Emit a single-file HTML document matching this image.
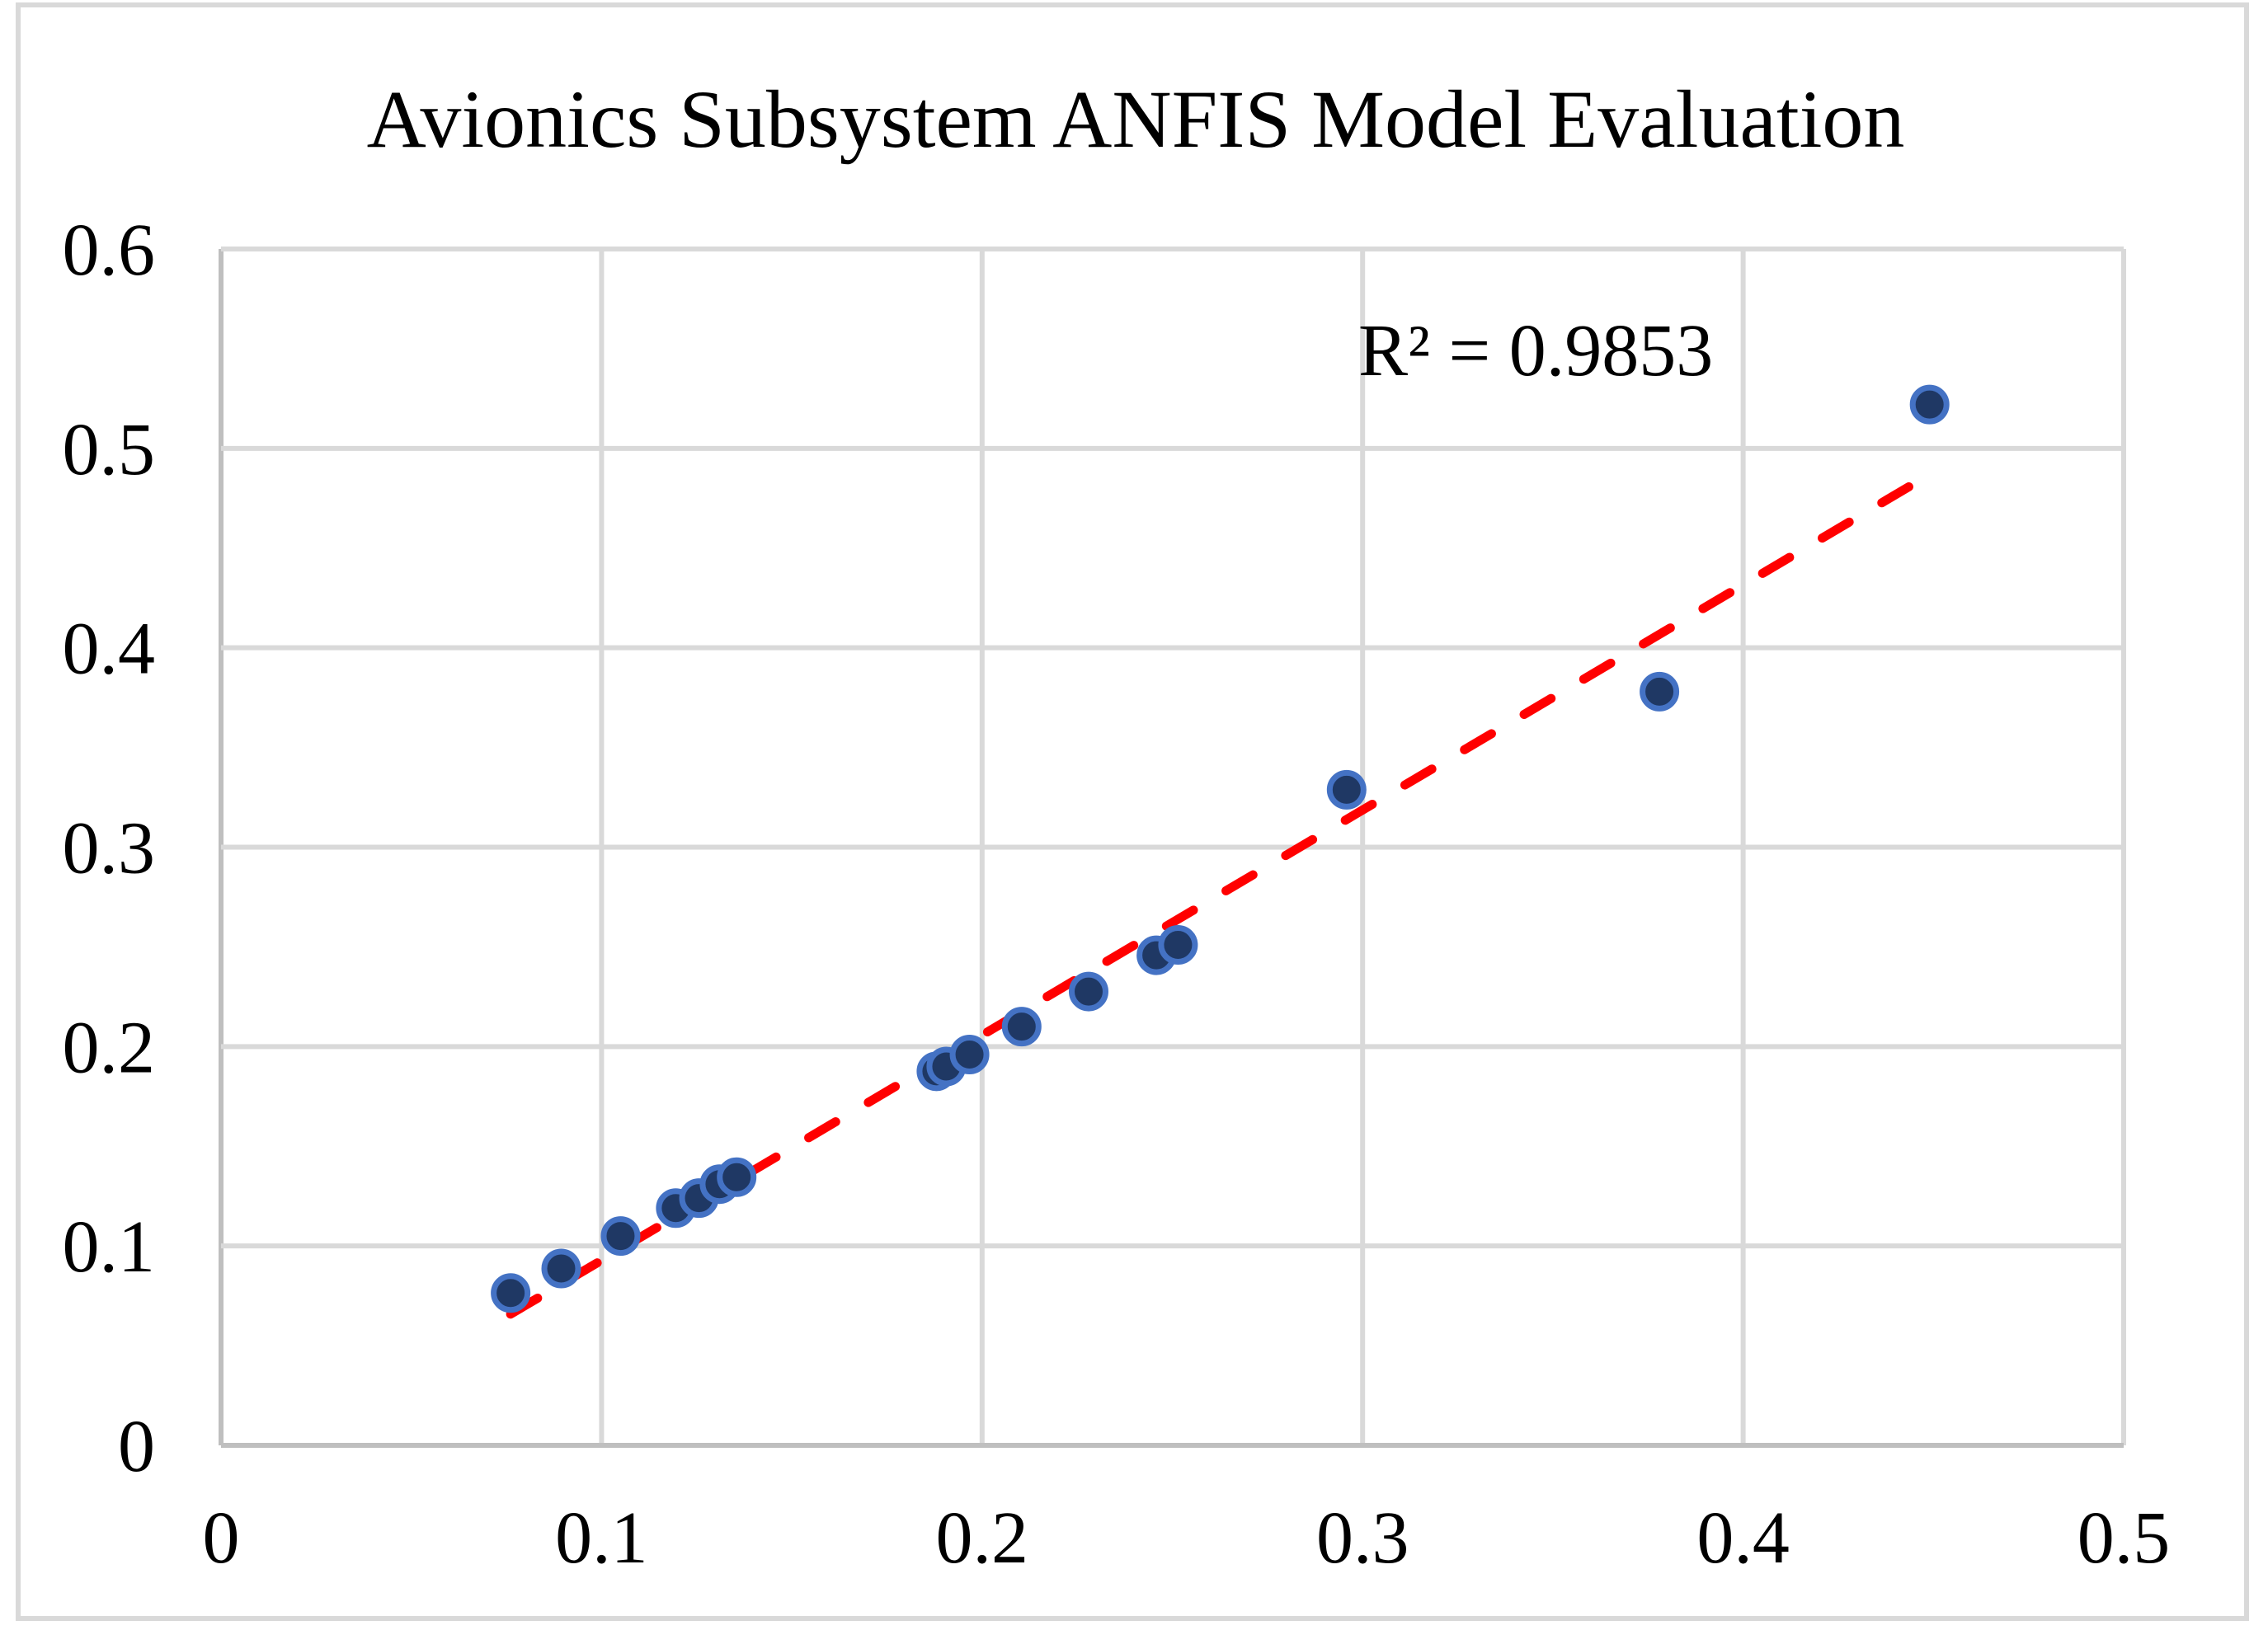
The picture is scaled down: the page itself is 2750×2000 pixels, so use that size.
<!DOCTYPE html>
<html><head><meta charset="utf-8"><style>
html,body{margin:0;padding:0;background:#fff}
svg text{font-family:"Liberation Serif",serif;fill:#000}
</style></head><body>
<svg id="chart" width="2750" height="1995" viewBox="0 0 2750 1995" xmlns="http://www.w3.org/2000/svg">
<rect x="22" y="6" width="2702" height="1957" fill="#fff" stroke="#d9d9d9" stroke-width="6"/>
<text x="1377" y="178" font-size="100" text-anchor="middle">Avionics Subsystem ANFIS Model Evaluation</text>
<g id="grid"></g>
<g id="trend"></g>
<g id="points"></g>
<text x="1647" y="455" font-size="90">R² = 0.9853</text>
</svg>
<script>
const xTicks = [0, 0.1, 0.2, 0.3, 0.4, 0.5];
const yTicks = [0, 0.1, 0.2, 0.3, 0.4, 0.5, 0.6];
const xTickLabels = ["0", "0.1", "0.2", "0.3", "0.4", "0.5"];
const yTickLabels = ["0", "0.1", "0.2", "0.3", "0.4", "0.5", "0.6"];
const xValues = [0.0761, 0.0894, 0.105, 0.1195, 0.1256, 0.131, 0.1355, 0.188, 0.1906, 0.1967, 0.2104, 0.228, 0.2458, 0.2515, 0.2958, 0.378, 0.449];
const yValues = [0.0764, 0.0887, 0.105, 0.119, 0.124, 0.131, 0.1345, 0.1876, 0.19, 0.196, 0.210, 0.2276, 0.2458, 0.251, 0.3288, 0.378, 0.522];

const L = 268, R = 2575, T = 302, B = 1753;
const xMax = 0.5, yMax = 0.6;
function sx(v){ return L + v / xMax * (R - L); }
function sy(v){ return B - v / yMax * (B - T); }
const NS = "http://www.w3.org/2000/svg";
function mk(tag, attrs, parent){
  const e = document.createElementNS(NS, tag);
  for (const k in attrs) e.setAttribute(k, attrs[k]);
  parent.appendChild(e); return e;
}
const grid = document.getElementById('grid');
xTicks.forEach((t, i) => {
  const ln = mk('line', {x1: sx(t), x2: sx(t), y1: T, y2: B, stroke: i === 0 ? '#bfbfbf' : '#d9d9d9', 'stroke-width': 6}, grid);
  
  
  const tx = mk('text', {x: sx(t), y: 1895, 'font-size': 90, 'text-anchor': 'middle'}, grid);
  tx.textContent = xTickLabels[i];
  
  
});
yTicks.forEach((t, i) => {
  const ln = mk('line', {x1: L, x2: R, y1: sy(t), y2: sy(t), stroke: i === 0 ? '#bfbfbf' : '#d9d9d9', 'stroke-width': 6}, grid);
  
  
  const tx = mk('text', {x: 188, y: sy(t) + 31, 'font-size': 90, 'text-anchor': 'end'}, grid);
  tx.textContent = yTickLabels[i];
  
  
});
// linear trendline (least squares)
const n = xValues.length;
let mx = 0, my = 0;
for (let i = 0; i < n; i++){ mx += xValues[i]; my += yValues[i]; }
mx /= n; my /= n;
let sxy = 0, sxx = 0;
for (let i = 0; i < n; i++){ sxy += (xValues[i]-mx)*(yValues[i]-my); sxx += (xValues[i]-mx)**2; }
const slope = sxy / sxx, icpt = my - slope * mx;
const x0 = Math.min(...xValues), x1 = Math.max(...xValues);
const tl = mk('line', {x1: sx(x0), y1: sy(slope*x0+icpt), x2: sx(x1), y2: sy(slope*x1+icpt), stroke: '#ff0000', 'stroke-width': 11, 'stroke-linecap': 'round', 'stroke-dasharray': '38 46'}, document.getElementById('trend'));


const pts = document.getElementById('points');
for (let i = 0; i < n; i++){
  const c = mk('circle', {cx: sx(xValues[i]), cy: sy(yValues[i]), r: 20.5, fill: '#1f3864', stroke: '#4472c4', 'stroke-width': 7}, pts);
  
  
}
</script>
</body></html>
